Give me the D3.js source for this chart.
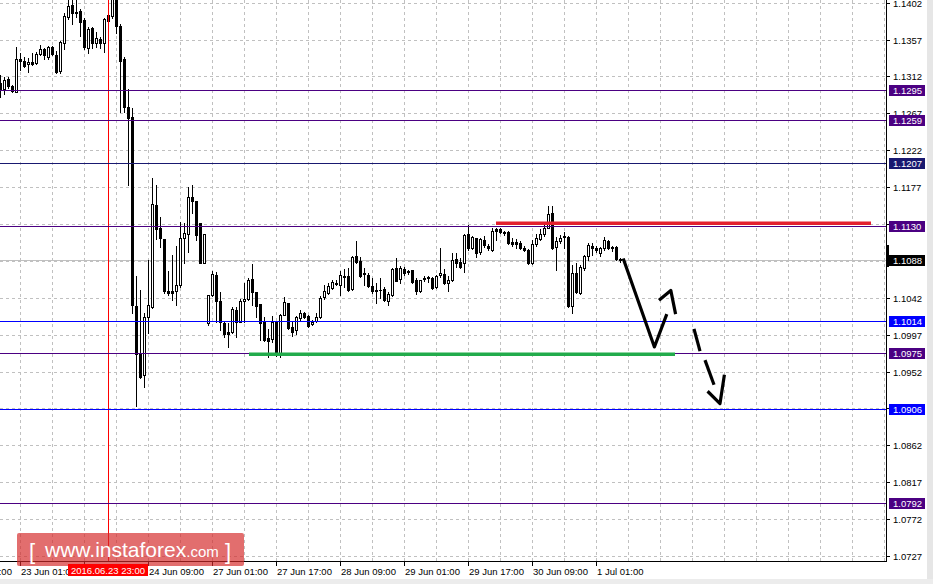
<!DOCTYPE html>
<html><head><meta charset="utf-8">
<script src="https://cdn.jsdelivr.net/npm/d3@7"></script>
<style>html,body{margin:0;padding:0;background:#fff;}svg{display:block;}text{font-family:"Liberation Sans",Arial,sans-serif;}</style>
</head><body>
<svg id="c" width="933" height="584"></svg>
<script>
// ---- data (EURUSD H1) ----
const open = [1.1304,1.1297,1.1309,1.1300,1.1293,1.1333,1.1331,1.1327,1.1330,1.1328,1.1339,1.1345,1.1336,1.1348,1.1338,1.1319,1.1353,1.1385,1.1399,1.1391,1.1392,1.1381,1.1347,1.1371,1.1353,1.1358,1.1353,1.1380,1.1386,1.1409,1.1374,1.1333,1.1275,1.1263,1.1032,1.0975,1.0948,1.1019,1.1031,1.1155,1.1127,1.1114,1.1050,1.1050,1.1050,1.1058,1.1115,1.1120,1.1165,1.1160,1.1133,1.1084,1.1011,1.1045,1.1070,1.1038,1.1011,1.1000,1.1000,1.1027,1.1012,1.1038,1.1041,1.1065,1.1049,1.1034,1.1012,1.0993,1.0992,1.1012,1.0972,1.1021,1.1036,1.1006,1.1003,1.1017,1.1023,1.1020,1.1010,1.1014,1.1019,1.1043,1.1048,1.1054,1.1060,1.1058,1.1069,1.1069,1.1053,1.1093,1.1087,1.1072,1.1070,1.1056,1.1051,1.1052,1.1053,1.1038,1.1045,1.1078,1.1065,1.1077,1.1075,1.1076,1.1064,1.1050,1.1066,1.1067,1.1066,1.1055,1.1070,1.1071,1.1060,1.1064,1.1089,1.1086,1.1084,1.1120,1.1103,1.1115,1.1098,1.1113,1.1105,1.1100,1.1126,1.1126,1.1122,1.1122,1.1110,1.1110,1.1109,1.1103,1.1100,1.1084,1.1108,1.1114,1.1120,1.1127,1.1145,1.1104,1.1111,1.1117,1.1116,1.1032,1.1072,1.1048,1.1078,1.1093,1.1105,1.1103,1.1097,1.1103,1.1111,1.1104,1.1104,1.1089];
const high = [1.1314,1.1311,1.1311,1.1301,1.1348,1.1341,1.1336,1.1335,1.1341,1.1342,1.1350,1.1347,1.1349,1.1349,1.1343,1.1355,1.1389,1.1405,1.1408,1.1405,1.1394,1.1383,1.1372,1.1372,1.1366,1.1360,1.1383,1.1405,1.1417,1.1417,1.1376,1.1336,1.1297,1.1274,1.1069,1.1052,1.1023,1.1088,1.1188,1.1180,1.1141,1.1114,1.1075,1.1094,1.1105,1.1134,1.1133,1.1177,1.1180,1.1160,1.1133,1.1120,1.1045,1.1075,1.1074,1.1049,1.1012,1.1011,1.1031,1.1031,1.1041,1.1060,1.1066,1.1083,1.1049,1.1034,1.1019,1.1004,1.1020,1.1012,1.1022,1.1043,1.1036,1.1012,1.1020,1.1027,1.1025,1.1021,1.1015,1.1023,1.1044,1.1058,1.1060,1.1064,1.1064,1.1075,1.1077,1.1078,1.1093,1.1111,1.1092,1.1078,1.1072,1.1066,1.1060,1.1066,1.1055,1.1049,1.1078,1.1091,1.1081,1.1080,1.1076,1.1076,1.1066,1.1064,1.1069,1.1069,1.1067,1.1070,1.1103,1.1077,1.1069,1.1097,1.1097,1.1091,1.1120,1.1131,1.1117,1.1115,1.1115,1.1117,1.1108,1.1127,1.1127,1.1127,1.1123,1.1123,1.1115,1.1114,1.1111,1.1105,1.1101,1.1113,1.1120,1.1126,1.1134,1.1154,1.1154,1.1116,1.1119,1.1122,1.1117,1.1082,1.1084,1.1082,1.1094,1.1109,1.1109,1.1105,1.1104,1.1116,1.1113,1.1105,1.1105,1.1090];
const low = [1.1287,1.1291,1.1298,1.1293,1.1293,1.1320,1.1324,1.1317,1.1326,1.1327,1.1338,1.1333,1.1333,1.1338,1.1316,1.1316,1.1346,1.1382,1.1376,1.1385,1.1361,1.1346,1.1341,1.1347,1.1348,1.1347,1.1342,1.1363,1.1383,1.1365,1.1269,1.1269,1.1180,1.1023,1.0910,1.0944,1.0933,1.0999,1.1030,1.1114,1.1104,1.1048,1.1045,1.1039,1.1033,1.1055,1.1084,1.1098,1.1145,1.1113,1.1084,1.1084,1.1009,1.1044,1.1012,1.1003,1.0994,1.0982,1.0999,1.0994,1.1012,1.1012,1.1039,1.1033,1.1019,1.0991,1.0989,1.0970,1.0988,1.0971,1.0970,1.1021,1.1004,1.0995,1.0998,1.1015,1.1017,1.1006,1.1009,1.1012,1.1017,1.1041,1.1047,1.1053,1.1058,1.1045,1.1055,1.1050,1.1052,1.1084,1.1067,1.1058,1.1055,1.1048,1.1036,1.1042,1.1038,1.1033,1.1044,1.1063,1.1060,1.1070,1.1071,1.1060,1.1047,1.1049,1.1063,1.1061,1.1053,1.1054,1.1067,1.1059,1.1050,1.1063,1.1080,1.1078,1.1073,1.1100,1.1102,1.1092,1.1096,1.1104,1.1100,1.1099,1.1113,1.1121,1.1119,1.1108,1.1105,1.1103,1.1102,1.1099,1.1083,1.1083,1.1105,1.1113,1.1117,1.1127,1.1102,1.1076,1.1109,1.1103,1.1031,1.1023,1.1048,1.1047,1.1076,1.1088,1.1094,1.1098,1.1093,1.1100,1.1101,1.1099,1.1088,1.1086];
const close = [1.1296,1.1308,1.1300,1.1294,1.1333,1.1331,1.1325,1.1330,1.1327,1.1339,1.1345,1.1338,1.1348,1.1339,1.1317,1.1354,1.1386,1.1398,1.1390,1.1390,1.1379,1.1348,1.1370,1.1353,1.1359,1.1353,1.1382,1.1387,1.1409,1.1374,1.1331,1.1275,1.1261,1.1033,1.0973,1.0945,1.1019,1.1033,1.1156,1.1126,1.1115,1.1050,1.1048,1.1048,1.1058,1.1115,1.1121,1.1165,1.1160,1.1119,1.1084,1.1120,1.1045,1.1071,1.1038,1.1012,1.0998,1.0998,1.1028,1.1012,1.1038,1.1041,1.1064,1.1049,1.1032,1.1011,1.0991,1.0989,1.1012,1.0972,1.1021,1.1037,1.1005,1.1000,1.1019,1.1023,1.1019,1.1008,1.1012,1.1019,1.1042,1.1050,1.1056,1.1061,1.1059,1.1070,1.1067,1.1052,1.1092,1.1086,1.1069,1.1071,1.1056,1.1050,1.1050,1.1051,1.1039,1.1047,1.1077,1.1063,1.1078,1.1072,1.1073,1.1061,1.1050,1.1064,1.1065,1.1066,1.1054,1.1069,1.1072,1.1060,1.1064,1.1088,1.1084,1.1080,1.1119,1.1103,1.1116,1.1097,1.1114,1.1106,1.1103,1.1124,1.1124,1.1122,1.1121,1.1109,1.1108,1.1108,1.1103,1.1100,1.1084,1.1108,1.1115,1.1120,1.1127,1.1144,1.1103,1.1111,1.1115,1.1116,1.1032,1.1072,1.1049,1.1080,1.1093,1.1106,1.1103,1.1100,1.1103,1.1113,1.1103,1.1103,1.1089,1.1088];

const yTickValues = [1.1402,1.1357,1.1312,1.1267,1.1222,1.1177,1.1132,1.1087,1.1042,1.0997,1.0952,1.0907,1.0862,1.0817,1.0772,1.0727];
const xTickIndex = [-11,5,21,37,53,69,85,101,117,133,149];
const xTickLabels = ["22 Jun 09:00","23 Jun 01:00","23 Jun 17:00","24 Jun 09:00","27 Jun 01:00","27 Jun 17:00","28 Jun 09:00","29 Jun 01:00","29 Jun 17:00","30 Jun 09:00","1 Jul 01:00"];
const levelValues = [1.1295,1.1259,1.1207,1.1130,1.1014,1.0975,1.0906,1.0792];
const levelColors = ["#4b0082","#4b0082","#191970","#4b0082","#0000ff","#4b0082","#0000ff","#4b0082"];
const lastPrice = 1.1088;
const markerIndex = 27, markerLabel = "2016.06.23 23:00";
const resistance = {from:124, to:217.75, price:1.1133};
const support = {from:62.25, to:168.75, price:1.0973};
const arrowMain  = [[155.8,1.1090],[163.6,1.0982],[166.7,1.1022]];
const arrowHead1 = [[164.75,1.1039],[167.7,1.1051],[168.9,1.1022]];
const arrowDash1 = [[173.5,1.1004],[175,1.0977]];
const arrowDash2 = [[176.25,1.0966],[178.5,1.0936]];
const arrowHead2 = [[176.9,1.0928],[180,1.0913],[181.1,1.0948]];

// ---- scales ----
const x = d3.scaleLinear().domain([0,221]).range([0,884]);
const y = d3.scaleLinear().domain([1.0727,1.1402]).range([556,2.7]);
const R = v => Math.round(v);
const svg = d3.select("#c");
const AX = 886.5, AY = 561.5;

svg.append("defs").append("clipPath").attr("id","plot").append("rect").attr("x",0).attr("y",0).attr("width",886).attr("height",561);
const plot = svg.append("g").attr("clip-path","url(#plot)");

// grid
const gridX = d3.range(5, 222, 8);
plot.selectAll("line.gx").data(gridX).enter().append("line").attr("class","gx")
  .attr("x1",d=>R(x(d))+0.5).attr("x2",d=>R(x(d))+0.5).attr("y1",0).attr("y2",561)
  .attr("stroke","#c0c0c0").attr("stroke-dasharray","3,3");
plot.selectAll("line.gy").data(yTickValues).enter().append("line").attr("class","gy")
  .attr("x1",0).attr("x2",886).attr("y1",d=>R(y(d))+0.5).attr("y2",d=>R(y(d))+0.5)
  .attr("stroke","#c0c0c0").attr("stroke-dasharray","3,3");

// last price line
plot.append("line").attr("x1",0).attr("x2",886).attr("y1",R(y(lastPrice))+0.5).attr("y2",R(y(lastPrice))+0.5).attr("stroke","#c0c0c0");

// candles
const idx = d3.range(open.length);
const cg = plot.append("g");
idx.forEach(i=>{
  const cx = R(x(i));
  const o=open[i], c=close[i], h=high[i], l=low[i];
  cg.append("line").attr("x1",cx+0.5).attr("x2",cx+0.5).attr("y1",R(y(h))).attr("y2",R(y(l))+1).attr("stroke","#000");
  const top = R(y(Math.max(o,c))), bot = R(y(Math.min(o,c)));
  if (c>o) {
    cg.append("rect").attr("x",cx-0.5).attr("y",top+0.5).attr("width",2).attr("height",Math.max(bot-top,1))
      .attr("fill","#fff").attr("stroke","#000");
  } else {
    cg.append("rect").attr("x",cx-1).attr("y",top).attr("width",3).attr("height",Math.max(bot-top+1,1)).attr("fill","#000");
  }
});

// marker vertical line
plot.append("line").attr("x1",R(x(markerIndex))+0.5).attr("x2",R(x(markerIndex))+0.5).attr("y1",0).attr("y2",561).attr("stroke","#ff0000");

// level lines
plot.selectAll("line.lv").data(levelValues).enter().append("line").attr("class","lv")
  .attr("x1",0).attr("x2",886).attr("y1",d=>R(y(d))+0.5).attr("y2",d=>R(y(d))+0.5)
  .attr("stroke",(d,i)=>levelColors[i]).attr("stroke-width",1.2);

// resistance / support
plot.append("line").attr("x1",x(resistance.from)).attr("x2",x(resistance.to)).attr("y1",y(resistance.price)).attr("y2",y(resistance.price)).attr("stroke","#e3202e").attr("stroke-width",3.5);
plot.append("line").attr("x1",x(support.from)).attr("x2",x(support.to)).attr("y1",y(support.price)).attr("y2",y(support.price)).attr("stroke","#22ab4b").attr("stroke-width",3.5);

// arrows
const ln = d3.line().x(d=>x(d[0])).y(d=>y(d[1]));
[arrowMain,arrowHead1,arrowDash1,arrowDash2,arrowHead2].forEach(a=>{
  plot.append("path").attr("d",ln(a)).attr("fill","none").attr("stroke","#000").attr("stroke-width",3.2).attr("stroke-linejoin","round").attr("stroke-linecap","butt");
});

// right gray strip and bottom band
svg.append("rect").attr("x",927).attr("y",0).attr("width",6).attr("height",584).attr("fill","#e6e6e6");
svg.append("rect").attr("x",0).attr("y",579).attr("width",933).attr("height",5).attr("fill","#ececec");

// axes lines
svg.append("line").attr("x1",AX).attr("x2",AX).attr("y1",0).attr("y2",AY+0.5).attr("stroke","#000");
svg.append("line").attr("x1",0).attr("x2",AX+0.5).attr("y1",AY).attr("y2",AY).attr("stroke","#000");

// y ticks (labels fully hidden under level boxes are skipped)
const boxes = levelValues.map((v,i)=>({v, c:levelColors[i]})).concat([{v:lastPrice,c:"#000"}]);
const visibleTicks = yTickValues.filter(t => !boxes.some(b => Math.abs(y(b.v)-y(t)) < 6));
svg.selectAll("line.yt").data(yTickValues).enter().append("line").attr("class","yt")
  .attr("x1",887).attr("x2",890).attr("y1",d=>R(y(d))+0.5).attr("y2",d=>R(y(d))+0.5).attr("stroke","#000");
svg.selectAll("text.ytl").data(visibleTicks).enter().append("text").attr("class","ytl")
  .attr("x",893).attr("y",d=>Math.max(R(y(d))+3.5, 7)).attr("font-size","9.5px").attr("fill","#000").text(d=>d.toFixed(4));

// current-price marker bar
svg.append("rect").attr("x",886).attr("y",R(y(1.1106))).attr("width",3).attr("height",R(y(1.1079))-R(y(1.1106))).attr("fill","#000");

// level labels
svg.selectAll("rect.lb").data(boxes).enter().append("rect").attr("class","lb")
  .attr("x",889).attr("y",d=>R(y(d.v))-5).attr("width",36).attr("height",11).attr("fill",d=>d.c);
svg.selectAll("text.lbt").data(boxes).enter().append("text").attr("class","lbt")
  .attr("x",893).attr("y",d=>R(y(d.v))+4).attr("font-size","9.5px").attr("fill","#fff").text(d=>d.v.toFixed(4));

// x ticks
svg.selectAll("line.xt").data(xTickIndex).enter().append("line").attr("class","xt")
  .attr("x1",d=>R(x(d))+0.5).attr("x2",d=>R(x(d))+0.5).attr("y1",562).attr("y2",566).attr("stroke","#000");
svg.selectAll("text.xtl").data(xTickIndex).enter().append("text").attr("class","xtl")
  .attr("x",d=>R(x(d))+1).attr("y",575).attr("font-size","9.5px").attr("fill","#000").text((d,i)=>xTickLabels[i]);

// watermark
const wm = svg.append("g");
wm.append("rect").attr("x",17).attr("y",533).attr("width",227).attr("height",33).attr("rx",2).attr("fill","#d42a2a").attr("opacity",0.68);
wm.append("text").attr("x",29).attr("y",559).attr("font-size","22px").attr("fill","#fff").text("[");
const wt = wm.append("text").attr("x",45).attr("y",557).attr("fill","#fff");
wt.append("tspan").attr("font-size","21px").text("www.instaforex");
wt.append("tspan").attr("font-size","15px").text(".com");
wm.append("text").attr("x",225).attr("y",559).attr("font-size","22px").attr("fill","#fff").text("]");

// marker date label
const mx = R(x(markerIndex));
svg.append("rect").attr("x",mx-40).attr("y",564).attr("width",80).attr("height",12).attr("fill","#ff0000");
svg.append("text").attr("x",mx).attr("y",574).attr("text-anchor","middle").attr("font-size","9.5px").attr("fill","#fff").text(markerLabel);
</script>
</body></html>
